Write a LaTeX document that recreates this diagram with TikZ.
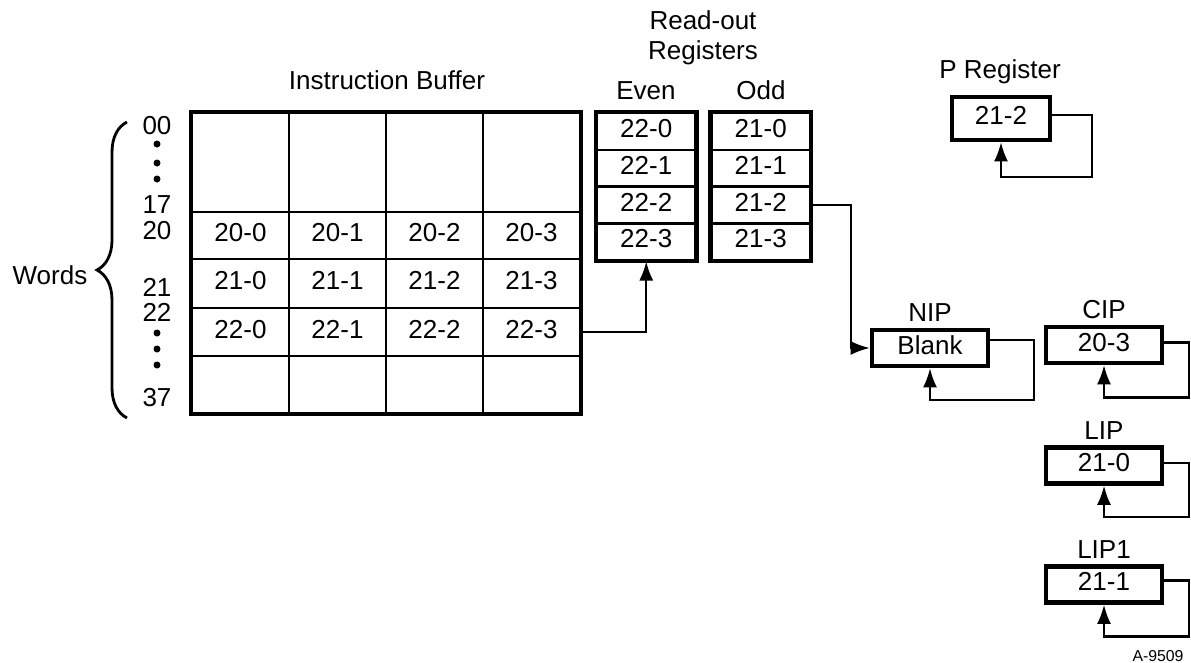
\documentclass[tikz,border=0pt]{standalone}
\usepackage{fontspec}
\setmainfont{Liberation Sans}
\usetikzlibrary{positioning, arrows.meta, decorations.pathreplacing}

\tikzset{
  txt/.style={text height=0.72em, text depth=0pt},
  cell/.style={draw, line width=1.4pt, inner sep=0pt, minimum width=1.94cm},
  reg/.style={draw, line width=1.4pt, inner sep=0pt, minimum width=1.97cm, minimum height=0.735cm},
  box/.style={draw, line width=2.4pt, inner sep=0pt, minimum width=2.32cm, minimum height=0.72cm},
  frame/.style={line width=2.4pt},
  wire/.style={line width=1.4pt},
  feed/.style={wire, -{Latex[length=11pt, width=8pt]}},
}

\begin{document}
\begin{tikzpicture}[x=0.02cm, y=-0.02cm, font=\fontsize{14.8}{17}\selectfont, every node/.append style={txt}]
  \useasboundingbox (0,0) rectangle (1191,663);

  % instruction buffer
  \node (ibuf) at (387,83) {Instruction Buffer};
  \foreach \c/\x in {0/240.5, 1/337.5, 2/434.5, 3/531.5} {
    \node[cell, minimum height=1.98cm] (r00c\c) at (\x,162.5) {};
    \node[cell, minimum height=0.94cm] (r20c\c) at (\x,235.5) {20-\c};
    \node[cell, minimum height=0.98cm] (r21c\c) at (\x,283.5) {21-\c};
    \node[cell, minimum height=0.96cm] (r22c\c) at (\x,332) {22-\c};
    \node[cell, minimum height=1.14cm] (r37c\c) at (\x,384.5) {};
  }
  \draw[frame] (r00c0.north west) rectangle (r37c3.south east);

  % word numbers
  \node (w00) at (157,128) {00};
  \node (w17) at (157,207) {17};
  \node (w20) at (157,233) {20};
  \node (w21) at (157,290) {21};
  \node (w22) at (157,315) {22};
  \node (w37) at (157,400) {37};
  \foreach \y in {144,163,179,333,349,365}
    \fill (157,\y) circle (0.07cm);
  \draw[line width=1.6pt, decorate, decoration={brace, amplitude=0.6cm}] (127,418) -- (127,122);
  \node[left=2pt] (words) at (97,278) {Words};

  % read-out registers
  \node (rolbl) at (703,23) {Read-out};
  \node (rglbl) at (703,53) {Registers};
  \node (evlbl) at (646,93) {Even};
  \node (odlbl) at (761,93) {Odd};
  \foreach \i/\y in {0/131.4, 1/168.1, 2/204.9, 3/241.6} {
    \node[reg] (ev\i) at (646.25,\y) {22-\i};
    \node[reg] (od\i) at (760.75,\y) {21-\i};
  }
  \draw[frame] (ev0.north west) rectangle (ev3.south east);
  \draw[frame] (od0.north west) rectangle (od3.south east);

  % P register
  \node (plbl) at (1000,72) {P Register};
  \node[box, minimum width=1.96cm, minimum height=0.86cm] (preg) at (1001,118.5) {21-2};
  \draw[feed] ([yshift=0.07cm]preg.east) -| ++(40,62) -| (preg.south);

  % instruction pointers
  \node[box] (nip) at (930,348) {Blank};
  \node[box] (cip) at (1104,345) {20-3};
  \node[box] (lip) at (1104,465.5) {21-0};
  \node[box] (lipone) at (1104,584.5) {21-1};
  \node[above=0pt of nip] (niplbl) {NIP};
  \node[above=0pt of cip] (ciplbl) {CIP};
  \node[above=0pt of lip] (liplbl) {LIP};
  \node[above=0pt of lipone] (liponelbl) {LIP1};

  \draw[feed] (r22c3.east) -| (ev3.south);
  \draw[feed] (od2.east) -- ++(40,0) |- (nip.west);
  \draw[feed] ([yshift=0.16cm]nip.east) -| ++(44,60) -| (nip.south);
  \draw[feed] ([yshift=0.05cm]cip.east) -| ++(25,55) -| (cip.south);
  \draw[feed] ([yshift=0.05cm]lip.east) -| ++(25,54) -| (lip.south);
  \draw[feed] ([yshift=0.08cm]lipone.east) -| ++(25,56) -| (lipone.south);

  \node[font=\fontsize{9}{10}\selectfont] (tag) at (1158,655) {A-9509};
\end{tikzpicture}
\end{document}
